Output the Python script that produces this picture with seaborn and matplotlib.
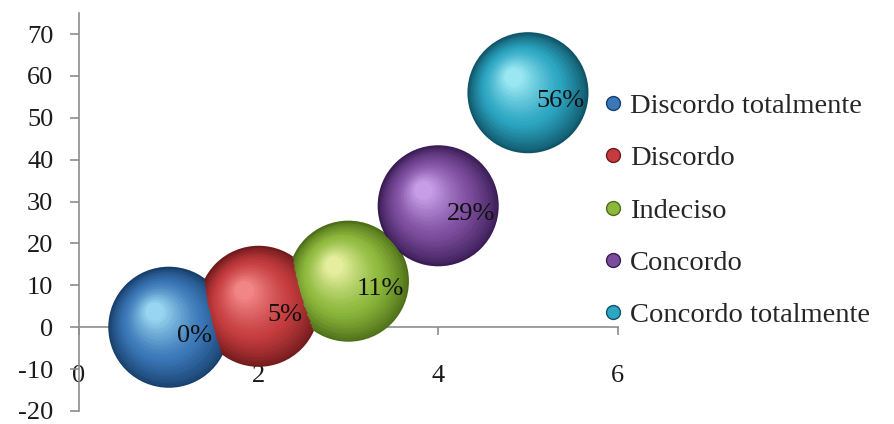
import numpy as np
import pandas as pd
import seaborn as sns
import matplotlib.pyplot as plt
from matplotlib.colors import to_rgb
from matplotlib.lines import Line2D
from matplotlib.transforms import offset_copy

# dados do gráfico de bolhas
categorias = ['Discordo totalmente', 'Discordo', 'Indeciso', 'Concordo', 'Concordo totalmente']
x_vals = [1, 2, 3, 4, 5]
y_vals = [0, 5, 11, 29, 56]
rotulos = ['0%', '5%', '11%', '29%', '56%']

# cores: borda escura, base, brilho
cores_base = ['#3b78b8', '#c43c3e', '#8cb83c', '#7b4c9c', '#2ca6c2']
cores_escuras = ['#173f6c', '#711a1c', '#4d6e18', '#3a1c55', '#0f5467']
cores_brilho = ['#9fdcf4', '#f58a8a', '#eaf2a4', '#cba4ea', '#a2ecf6']

df = pd.DataFrame({'x': x_vals, 'y': y_vals, 'cat': categorias})

sns.set_style('white')
plt.rcParams['font.family'] = ['Liberation Serif', 'DejaVu Serif']
plt.rcParams['axes.unicode_minus'] = False

fig = plt.figure(figsize=(8.94, 4.24), dpi=100)
ax = fig.add_axes([0.0884, 0.0307, 0.6026, 0.9383])

TAM = 7600  # área do marcador (pt^2)

# camada base via seaborn
sns.scatterplot(data=df, x='x', y='y', hue='cat', palette=cores_escuras,
                s=TAM, linewidth=0, legend=False, ax=ax, zorder=3, clip_on=False)

# sombreamento esférico: círculos concêntricos deslocados para o brilho
n = 30
for i, (xv, yv) in enumerate(zip(x_vals, y_vals)):
    c0 = np.array(to_rgb(cores_escuras[i]))
    c1 = np.array(to_rgb(cores_base[i]))
    c2 = np.array(to_rgb(cores_brilho[i]))
    for k in range(1, n):
        t = k / n
        if t < 0.4:
            c = c0 + (c1 - c0) * (t / 0.4) ** 0.8
        else:
            c = c1 + (c2 - c1) * ((t - 0.4) / 0.6) ** 1.2
        frac = 1 - 0.88 * t
        tr = offset_copy(ax.transData, fig=fig, x=-11 * t, y=12 * t, units='points')
        ax.scatter([xv], [yv], s=TAM * frac ** 2, color=c, linewidth=0,
                   transform=tr, zorder=3 + k * 0.01, clip_on=False)

# rótulos de dados
for xv, yv, r in zip(x_vals, y_vals, rotulos):
    ax.annotate(r, (xv, yv), xytext=(6, -6), textcoords='offset points',
                ha='left', va='center', fontsize=19, color='#111111', zorder=10)

ax.set_xlim(0, 6)
ax.set_ylim(-20, 75)
ax.set_xticks([0, 2, 4, 6])
ax.set_yticks(np.arange(-20, 71, 10))
ax.set_xlabel('')
ax.set_ylabel('')

for s in ['top', 'right']:
    ax.spines[s].set_visible(False)
ax.spines['bottom'].set_position(('data', 0))
for s in ['left', 'bottom']:
    ax.spines[s].set_color('#8c8c8c')
    ax.spines[s].set_linewidth(1.2)
    ax.spines[s].set_zorder(1)

ax.tick_params(axis='y', direction='out', length=6.5, width=1.2, color='#8c8c8c',
               pad=12, labelsize=19, labelcolor='#1a1a1a', left=True)
ax.tick_params(axis='x', direction='out', length=6, width=1.2, color='#8c8c8c',
               pad=21, labelsize=19, labelcolor='#1a1a1a', bottom=True)

# legenda com pequenas esferas
handles = [Line2D([0], [0], marker='o', linestyle='', markersize=10,
                  markerfacecolor=cores_base[i], markeredgecolor=cores_escuras[i],
                  markeredgewidth=1.0) for i in range(len(categorias))]
fig.legend(handles, categorias, loc='upper left', bbox_to_anchor=(0.662, 0.808),
           frameon=False, fontsize=20.5, labelspacing=0.93, handlelength=0.7,
           handletextpad=0.25, borderaxespad=0)

fig.savefig('out.png', dpi=100, facecolor='white')
